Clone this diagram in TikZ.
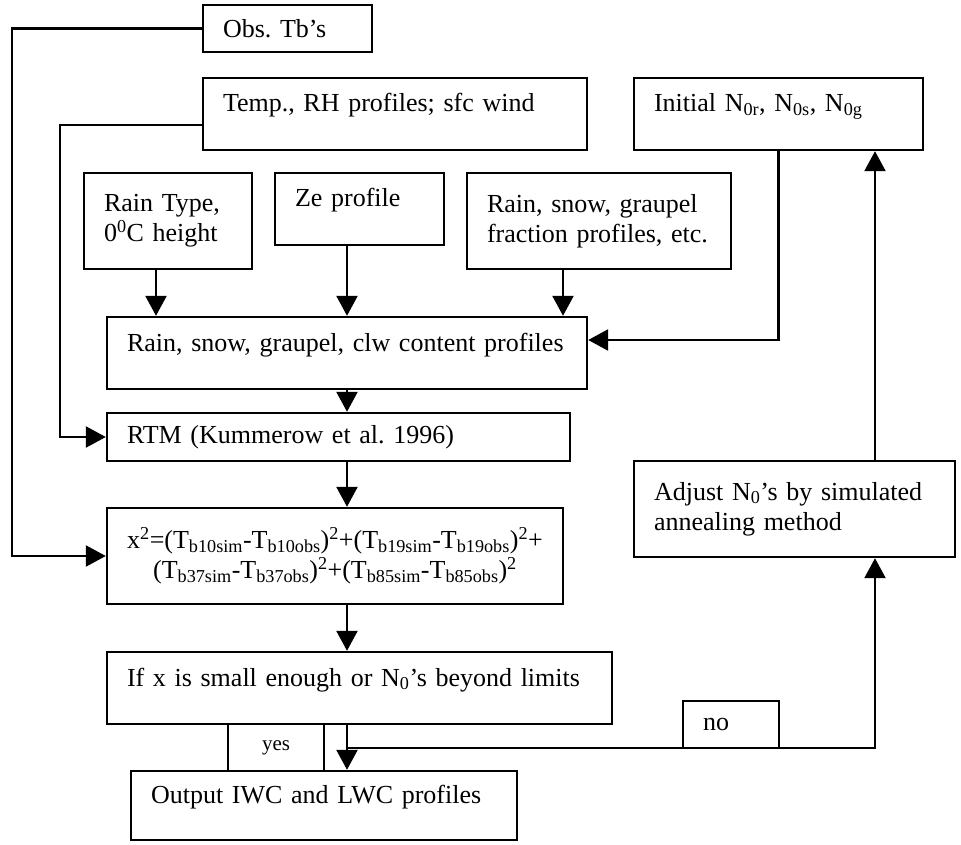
\documentclass[tikz,border=0pt]{standalone}
\usepackage{fontspec}
\setmainfont{Liberation Serif}
\usetikzlibrary{arrows.meta}
\frenchspacing

\newcommand{\tbsub}[1]{T\textsubscript{b#1}}

\tikzset{
  >={Triangle[length=20pt,width=21pt]},
  blk/.style={draw, line width=2.4pt, inner xsep=20pt, inner ysep=0pt,
    align=left, font=\fontsize{26}{30}\selectfont},
  raised/.style={text height=18pt, text depth=22pt},
  wire/.style={line width=2.4pt},
}

\begin{document}
\begin{tikzpicture}[x=1pt, y=-1pt]
    \useasboundingbox (0,0) rectangle (961,845);

    % inputs
    \node[blk, text width=129pt, minimum height=47pt] (obs) at (287.5,28.5) {Obs. Tb’s};
    \node[blk, raised, text width=344pt, minimum height=72pt] (temp) at (395,114) {Temp., RH profiles; sfc wind};
    \node[blk, raised, text width=249pt, minimum height=72pt] (init) at (778.5,114)
        {Initial N\textsubscript{0r}, N\textsubscript{0s}, N\textsubscript{0g}};
    \node[blk, text width=128pt, minimum height=96pt] (rtype) at (168,221) {Rain Type,\\0\textsuperscript{0}C height};
    \node[blk, raised, text width=129pt, minimum height=72pt] (ze) at (359.5,209) {Ze profile};
    \node[blk, text width=224pt, minimum height=96pt] (frac) at (599,221) {Rain, snow, graupel\\fraction profiles, etc.};

    % main chain
    \node[blk, raised, text width=440pt, minimum height=72pt] (cont) at (347,353) {Rain, snow, graupel, clw content profiles};
    \node[blk, text width=423pt, minimum height=48pt] (rtm) at (338.5,437) {RTM (Kummerow et al. 1996)};
    \node[blk, align=center, minimum width=456pt, minimum height=96pt] (chi) at (335,556)
        {x\textsuperscript{2}=(\tbsub{10sim}-\tbsub{10obs})\textsuperscript{2}+(\tbsub{19sim}-\tbsub{19obs})\textsuperscript{2}+\\
         (\tbsub{37sim}-\tbsub{37obs})\textsuperscript{2}+(\tbsub{85sim}-\tbsub{85obs})\textsuperscript{2}};
    \node[blk, text width=281pt, minimum height=96pt] (adj) at (794.5,509) {Adjust N\textsubscript{0}’s by simulated\\annealing method};
    \node[blk, raised, text width=465pt, minimum height=72pt] (ifb) at (359.5,688) {If x is small enough or N\textsubscript{0}’s beyond limits};
    \node[blk, raised, text width=346pt, minimum height=69pt] (outp) at (324,805.5) {Output IWC and LWC profiles};

    % branch labels
    \node[blk, align=center, font=\fontsize{21}{25}\selectfont, inner xsep=0pt, minimum width=96pt, minimum height=47pt] (yes) at (276,747.5) {yes};
    \node[blk, text width=56pt, minimum height=47pt] (no) at (731,724.5) {no};

    \coordinate (lrail) at (12,0);
    \coordinate (irail) at (60,0);
    \coordinate (back) at (347,748);

    \draw[wire,->] (obs.west) -| (lrail |- chi.west) -- (chi.west);
    \draw[wire,->] ([yshift=-11pt]temp.west) -| (irail |- rtm.west) -- (rtm.west);

    \draw[wire,->] ([xshift=-12pt]rtype.south) -- ([xshift=-12pt]rtype.south |- cont.north);
    \draw[wire,->] ([xshift=-12.5pt]ze.south) -- ([xshift=-12.5pt]ze.south |- cont.north);
    \draw[wire,->] ([xshift=-36pt]frac.south) -- ([xshift=-36pt]frac.south |- cont.north);
    \draw[wire,->] (init.south) |- ([yshift=13pt]cont.east);

    \draw[wire,->] (cont.south) -- (cont.south |- rtm.north);
    \draw[wire,->] (cont.south |- rtm.south) -- (cont.south |- chi.north);
    \draw[wire,->] (cont.south |- chi.south) -- (cont.south |- ifb.north);
    \draw[wire,->] (cont.south |- ifb.south) -- (cont.south |- outp.north);

    % loop back
    \draw[wire,->] (back) -| ([xshift=80.5pt]adj.south);
    \draw[wire,->] ([xshift=80.5pt]adj.north) -- ([xshift=80.5pt]adj.north |- init.south);

\end{tikzpicture}
\end{document}
